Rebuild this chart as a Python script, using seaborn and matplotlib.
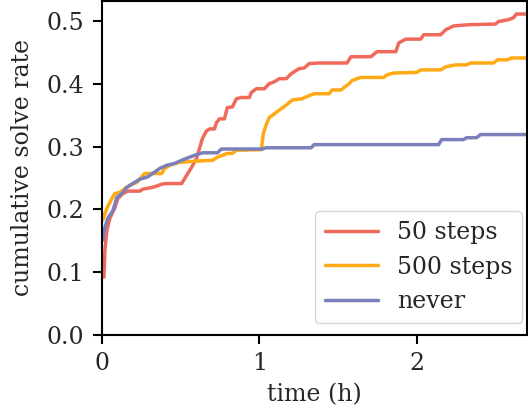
import numpy as np
import pandas as pd
import matplotlib
matplotlib.use("Agg")
import matplotlib.pyplot as plt
import seaborn as sns

# hours / cumulative solve rate
t_50 = [0.013, 0.019, 0.032, 0.051, 0.082, 0.101, 0.133, 0.165, 0.241, 0.259, 0.323, 0.348,
        0.380, 0.411, 0.506, 0.538, 0.570, 0.601, 0.620, 0.639, 0.665, 0.684, 0.715, 0.728,
        0.747, 0.778, 0.797, 0.829, 0.854, 0.886, 0.937, 0.949, 0.981, 1.032, 1.063, 1.095,
        1.127, 1.171, 1.203, 1.234, 1.253, 1.285, 1.316, 1.380, 1.557, 1.582, 1.709, 1.747,
        1.867, 1.886, 1.930, 2.025, 2.044, 2.152, 2.184, 2.234, 2.329, 2.500, 2.519, 2.582,
        2.614, 2.633, 2.70]
r_50 = [0.092, 0.135, 0.167, 0.186, 0.202, 0.217, 0.225, 0.229, 0.229, 0.232, 0.235, 0.237,
        0.240, 0.241, 0.241, 0.254, 0.267, 0.281, 0.297, 0.313, 0.325, 0.328, 0.328, 0.338,
        0.344, 0.344, 0.362, 0.363, 0.376, 0.378, 0.378, 0.386, 0.392, 0.392, 0.400, 0.403,
        0.408, 0.408, 0.416, 0.421, 0.424, 0.425, 0.432, 0.433, 0.433, 0.443, 0.443, 0.451,
        0.451, 0.465, 0.471, 0.471, 0.478, 0.478, 0.486, 0.492, 0.494, 0.495, 0.499, 0.502,
        0.505, 0.511, 0.511]

t_500 = [0.006, 0.032, 0.063, 0.082, 0.114, 0.146, 0.177, 0.222, 0.272, 0.380, 0.399, 0.430,
         0.494, 0.620, 0.703, 0.734, 0.766, 0.797, 0.829, 0.854, 1.013, 1.025, 1.044, 1.063,
         1.095, 1.127, 1.171, 1.209, 1.272, 1.297, 1.348, 1.443, 1.462, 1.519, 1.538, 1.570,
         1.589, 1.620, 1.646, 1.791, 1.810, 1.854, 2.000, 2.025, 2.152, 2.184, 2.247, 2.316,
         2.342, 2.487, 2.513, 2.576, 2.601, 2.70]
r_500 = [0.183, 0.202, 0.217, 0.225, 0.227, 0.233, 0.238, 0.243, 0.257, 0.257, 0.265, 0.270,
         0.275, 0.277, 0.278, 0.283, 0.286, 0.289, 0.289, 0.294, 0.295, 0.320, 0.335, 0.346,
         0.352, 0.358, 0.366, 0.374, 0.376, 0.379, 0.384, 0.384, 0.390, 0.390, 0.394, 0.400,
         0.405, 0.408, 0.410, 0.410, 0.414, 0.417, 0.418, 0.422, 0.422, 0.427, 0.430, 0.430,
         0.433, 0.433, 0.438, 0.438, 0.441, 0.441]

t_never = [0.006, 0.019, 0.038, 0.070, 0.095, 0.127, 0.158, 0.196, 0.241, 0.285, 0.323, 0.367,
           0.411, 0.462, 0.506, 0.557, 0.601, 0.639, 0.734, 0.759, 1.019, 1.044, 1.329, 1.348,
           2.139, 2.158, 2.297, 2.316, 2.380, 2.405, 2.70]
r_never = [0.151, 0.171, 0.186, 0.198, 0.219, 0.225, 0.235, 0.241, 0.248, 0.251, 0.257, 0.265,
           0.270, 0.273, 0.278, 0.283, 0.287, 0.290, 0.290, 0.296, 0.296, 0.298, 0.298, 0.303,
           0.303, 0.311, 0.311, 0.314, 0.314, 0.319, 0.319]

labels = ["50 steps", "500 steps", "never"]
colors = ["#EF6A5B", "#FFA914", "#7A80BA"]

df = pd.concat([
    pd.DataFrame({"time": t_50, "rate": r_50, "schedule": labels[0]}),
    pd.DataFrame({"time": t_500, "rate": r_500, "schedule": labels[1]}),
    pd.DataFrame({"time": t_never, "rate": r_never, "schedule": labels[2]}),
])

sns.set_theme(style="ticks")
plt.rcParams["font.family"] = ["DejaVu Serif"]
fs = 17

fig = plt.figure(figsize=(5.28, 4.16), dpi=100)
ax = fig.add_axes([0.193, 0.195, 0.805, 0.803])

sns.lineplot(data=df, x="time", y="rate", hue="schedule", palette=dict(zip(labels, colors)),
             estimator=None, sort=False, linewidth=2.5, ax=ax)

ax.set_xlim(0, 2.70)
ax.set_ylim(0, 0.532)
ax.set_xticks([0, 1, 2])
ax.set_yticks(np.arange(0, 0.51, 0.1))
ax.set_yticklabels([f"{v:.1f}" for v in np.arange(0, 0.51, 0.1)])
ax.set_xlabel("time (h)", fontsize=fs, labelpad=6)
ax.set_ylabel("cumulative solve rate", fontsize=fs, labelpad=9)
ax.tick_params(labelsize=fs, width=1.5, length=6.5, color="black", pad=6)
for s in ax.spines.values():
    s.set_linewidth(1.5)
    s.set_color("black")

leg = ax.legend(loc="lower right", bbox_to_anchor=(0.988, 0.036), borderaxespad=0,
                fontsize=fs, handlelength=2.25, handletextpad=0.8, frameon=True)
leg.get_frame().set_edgecolor("#cccccc")

fig.savefig("out.png", dpi=100)
